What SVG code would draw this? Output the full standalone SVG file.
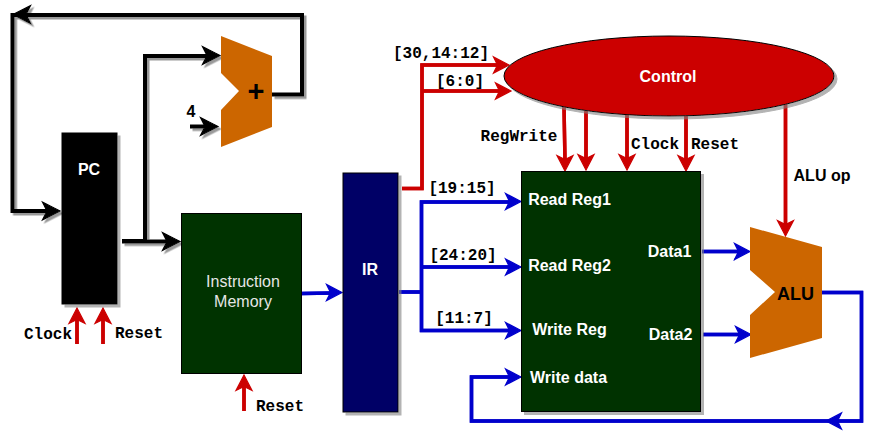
<svg xmlns="http://www.w3.org/2000/svg" width="873" height="433" viewBox="0 0 873 433">
<style>
text{font-family:"Liberation Sans",Arial,sans-serif;font-size:16px;font-weight:bold;text-anchor:middle}
.w{fill:#fff}
.m{font-family:"Liberation Mono","Courier New",monospace;fill:#000}
.k{fill:#000}
.c{fill:none;stroke-linejoin:miter;stroke-linecap:butt}
.bk{stroke:#000;stroke-width:4}
.re{stroke:#c00;stroke-width:3.500;filter:url(#ha)}
.bl{stroke:#00c;stroke-width:3.500;filter:url(#ha)}
.hbk{fill:#000;stroke:#000;stroke-width:1.200;stroke-miterlimit:10}
.hre{fill:#c00;stroke:#c00;stroke-width:1.200;stroke-miterlimit:10}
.hbl{fill:#00c;stroke:#00c;stroke-width:1.200;stroke-miterlimit:10}
</style>
<defs>
<filter id="sh" x="-20" y="-20" width="900" height="480" filterUnits="userSpaceOnUse"><feDropShadow dx="2.500" dy="2.500" stdDeviation="0.300" flood-color="#808080" flood-opacity="0.8"/></filter>
<filter id="sl" x="-20%" y="-20%" width="140%" height="140%"><feDropShadow dx="3" dy="3" stdDeviation="0.500" flood-color="#808080" flood-opacity="0.6"/></filter>
<filter id="ha" x="-20" y="-20" width="900" height="480" filterUnits="userSpaceOnUse"><feGaussianBlur stdDeviation="0.400" result="b"/><feMerge><feMergeNode in="b"/><feMergeNode in="SourceGraphic"/></feMerge></filter>
<path id="ab" d="M-1 0L-18.500 -9L-14 0L-18.500 9Z"/>
<path id="ah" d="M-1 0L-16.500 -8L-12.500 0L-16.500 8Z"/>
</defs>
<g id="connectors">
<g filter="url(#sh)">
<path class="c bk" d="M272 94.500H302V15H12.500V211H50"/>
<path class="c bk" d="M122 241H145V56H210"/>
<path class="c bk" d="M190 126.500H208"/>
<path class="c bk" d="M122 241.500H170"/>
<use href="#ab" class="hbk" transform="translate(12,14.500) rotate(180)"/>
<use href="#ab" class="hbk" transform="translate(61,211)"/>
<use href="#ab" class="hbk" transform="translate(221,55.500)"/>
<use href="#ab" class="hbk" transform="translate(219,126.500)"/>
<use href="#ab" class="hbk" transform="translate(181,241.500)"/>
</g>
<g>
<path class="c re" d="M77 344V317M103 344V317M244 411V384"/>
<path class="c re" d="M402 188.500H422V65H500M422 91H502"/>
<path class="c re" d="M564 106L565 162M586 111V161M627 114V161M686 116V162M785.500 104V227"/>
<use href="#ah" class="hre" transform="translate(77,307) rotate(-90)"/>
<use href="#ah" class="hre" transform="translate(103,307) rotate(-90)"/>
<use href="#ah" class="hre" transform="translate(244,374) rotate(-90)"/>
<use href="#ah" class="hre" transform="translate(510,65)"/>
<use href="#ah" class="hre" transform="translate(512,91)"/>
<use href="#ah" class="hre" transform="translate(565,172) rotate(90)"/>
<use href="#ah" class="hre" transform="translate(586,171) rotate(90)"/>
<use href="#ah" class="hre" transform="translate(627,171) rotate(90)"/>
<use href="#ah" class="hre" transform="translate(686,172) rotate(90)"/>
</g>
<g>
<path class="c bl" d="M302 293.500L333 293"/>
<path class="c bl" d="M399 292H421.500V202H512M421.500 267H512M421.500 292V330.500H512"/>
<path class="c bl" d="M702 251.500H741M703 334.500H742"/>
<path class="c bl" d="M822 292.500H861.500V421H471.500V377H512"/>
<use href="#ah" class="hbl" transform="translate(343,292.500)"/>
<use href="#ah" class="hbl" transform="translate(522,201.500)"/>
<use href="#ah" class="hbl" transform="translate(522,267)"/>
<use href="#ah" class="hbl" transform="translate(522,330.500)"/>
<use href="#ah" class="hbl" transform="translate(522,377)"/>
<use href="#ah" class="hbl" transform="translate(751,251.500)"/>
<use href="#ah" class="hbl" transform="translate(752,334.500)"/>
<use href="#ah" class="hbl" transform="translate(825,421) rotate(180)"/>
</g>
</g>
<g id="pc"><rect x="61.500" y="132.500" width="56" height="172" fill="#000" filter="url(#sl)"/><text class="w" x="89" y="175">PC</text></g>
<g id="adder"><path d="M221 36L272 56V127L221 147V110L239 91L221 73Z" fill="#c60"/><text class="k" x="256" y="101" style="font-size:29px">+</text></g>
<g id="instruction-memory"><rect x="181.500" y="213.500" width="120" height="160" fill="#030" stroke="#000"/><text x="243" y="287" fill="#e6e6e6" style="font-weight:normal">Instruction</text><text x="243" y="307" fill="#e6e6e6" style="font-weight:normal">Memory</text></g>
<g id="ir"><rect x="343" y="173" width="55" height="239" fill="#006" stroke="#000" filter="url(#sl)"/><text class="w" x="370" y="275">IR</text></g>
<g id="control"><ellipse cx="669" cy="76" rx="165" ry="40" fill="#c00" stroke="#000" filter="url(#sl)"/><text class="w" x="668" y="82">Control</text></g>
<g id="register-file"><rect x="521.500" y="171.500" width="179" height="240" fill="#030" stroke="#000" filter="url(#sl)"/>
<text class="w" x="569.500" y="205">Read Reg1</text><text class="w" x="569.500" y="271">Read Reg2</text><text class="w" x="569.500" y="335">Write Reg</text><text class="w" x="568.500" y="383">Write data</text><text class="w" x="669.500" y="257">Data1</text><text class="w" x="670.500" y="340">Data2</text></g>
<g id="alu"><path d="M750 227L822 247V338L750 358V315L775 292L750 270Z" fill="#c60"/><text class="k" x="795.500" y="300" style="font-size:18px">ALU</text></g>
<use href="#ah" class="hre" transform="translate(785.500,237) rotate(90)"/>
<g id="labels">
<text class="m" x="441" y="58">[30,14:12]</text><text class="m" x="460" y="86">[6:0]</text><text class="m" x="462" y="193">[19:15]</text><text class="m" x="463" y="260">[24:20]</text><text class="m" x="464" y="323">[11:7]</text>
<text class="m" x="519" y="141">RegWrite</text><text class="m" x="655" y="149">Clock</text><text class="m" x="715" y="149">Reset</text><text class="k" x="822" y="181">ALU op</text>
<text class="k" x="191" y="117">4</text><text class="m" x="48" y="339">Clock</text><text class="m" x="139" y="338">Reset</text><text class="m" x="280" y="411">Reset</text>
</g>
</svg>
